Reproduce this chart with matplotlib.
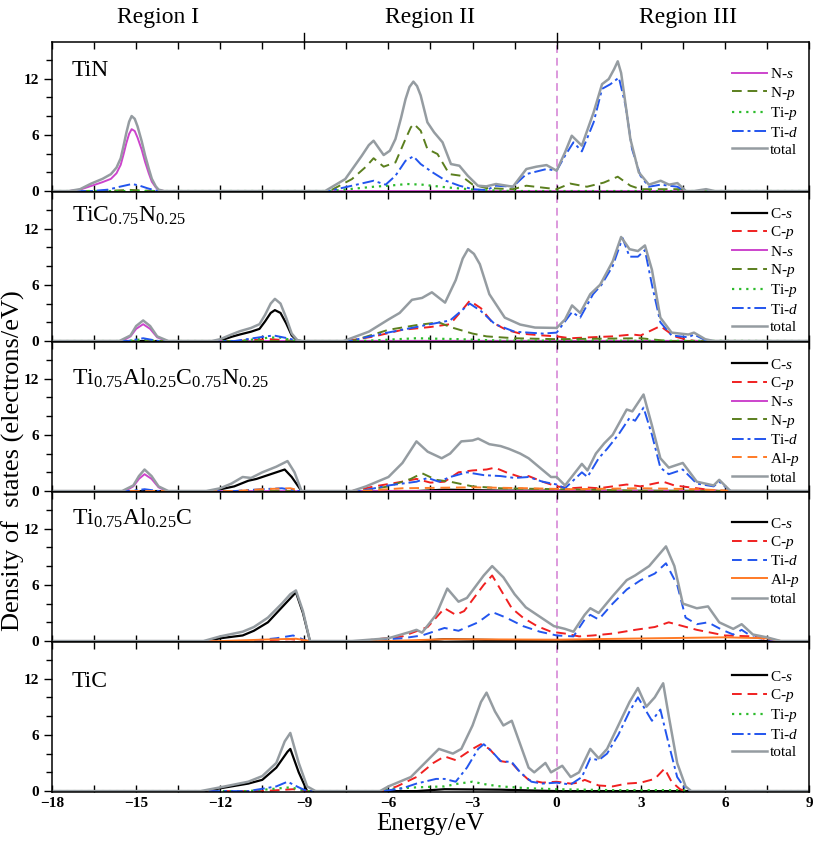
import numpy as np
import matplotlib
matplotlib.use("Agg")
import matplotlib.pyplot as plt
from matplotlib.ticker import MultipleLocator, FixedLocator
import matplotlib.transforms as mtransforms

plt.rcParams['font.family'] = ['Liberation Serif', 'DejaVu Serif']
plt.rcParams['mathtext.fontset'] = 'custom'
plt.rcParams['mathtext.rm'] = 'Liberation Serif'
plt.rcParams['mathtext.it'] = 'Liberation Serif:italic'
plt.rcParams['mathtext.bf'] = 'Liberation Serif:bold'

# ---- data: (energy eV, DOS) ----
# TiN
tin_ns = [(-18, 0), (-17.4, 0), (-17.0, 0.15), (-16.6, 0.55), (-16.2, 0.95), (-15.9, 1.3), (-15.7, 1.9),
          (-15.55, 2.8), (-15.45, 3.9), (-15.35, 5.1), (-15.25, 6.1), (-15.16, 6.6), (-15.05, 6.4),
          (-14.95, 5.7), (-14.8, 4.4), (-14.68, 3.1), (-14.55, 1.9), (-14.44, 1.0), (-14.3, 0.4),
          (-14.2, 0.1), (-14.0, 0), (9, 0)]
tin_np = [(-18, 0), (-16.2, 0), (-15.2, 0.12), (-14.3, 0), (-8.1, 0), (-7.3, 1.28), (-6.8, 2.6),
          (-6.53, 3.5), (-6.17, 2.6), (-5.75, 3.05), (-5.39, 5.55), (-5.2, 6.8), (-5.09, 7.15),
          (-4.85, 6.44), (-4.61, 4.48), (-4.25, 3.95), (-3.83, 1.81), (-3.41, 1.63), (-2.99, 0.68),
          (-2.51, 0.32), (-1.56, 0.2), (-1.08, 0.57), (-0.36, 0.32), (0, 0.2), (0.48, 0.8), (1.08, 0.46),
          (1.68, 0.9), (2.18, 1.53), (2.63, 0.57), (2.99, 0.2), (4.43, 0.2), (4.67, 0), (9, 0)]
tin_tip = [(-18, 0), (-8.1, 0), (-6.53, 0.46), (-5.99, 0.57), (-5.33, 0.75), (-4.79, 0.68), (-3.95, 0.4),
           (-2.75, 0.1), (-1.56, 0), (9, 0)]
tin_tid = [(-18, 0), (-16.6, 0), (-16.0, 0.15), (-15.6, 0.45), (-15.15, 0.75), (-14.9, 0.6), (-14.6, 0.3),
           (-14.3, 0.05), (-14.1, 0), (-8.14, 0), (-7.3, 0.57), (-6.53, 1.1), (-6.1, 0.68), (-5.75, 1.63),
           (-5.39, 3.23), (-5.11, 3.7), (-4.85, 2.88), (-4.43, 2.0), (-3.95, 1.1), (-3.47, 0.57),
           (-2.99, 0.2), (-2.51, 0.1), (-2.16, 0.57), (-1.56, 0.46), (-1.08, 1.81), (-0.36, 2.35),
           (0, 2.17), (0.3, 3.77), (0.6, 5.2), (0.9, 4.23), (1.32, 7.33), (1.62, 10.9), (1.92, 11.4),
           (2.22, 12.1), (2.46, 9.1), (2.69, 4.48), (2.99, 1.63), (3.29, 0.46), (3.71, 0.68),
           (4.01, 0.57), (4.31, 0.46), (4.55, 0), (9, 0)]
tin_total = [(-18, 0), (-17.4, 0), (-17.0, 0.2), (-16.6, 0.8), (-16.2, 1.3), (-15.9, 1.8), (-15.7, 2.5),
             (-15.55, 3.5), (-15.45, 4.8), (-15.35, 6.2), (-15.25, 7.4), (-15.16, 8.0), (-15.05, 7.7),
             (-14.95, 6.9), (-14.8, 5.3), (-14.68, 3.8), (-14.55, 2.4), (-14.44, 1.3), (-14.3, 0.5),
             (-14.2, 0.15), (-14.0, 0), (-8.26, 0), (-7.54, 1.28), (-6.95, 3.77), (-6.7, 4.9),
             (-6.53, 5.37), (-6.35, 4.6), (-6.17, 3.84), (-5.95, 4.3), (-5.75, 5.55), (-5.55, 7.8),
             (-5.39, 9.8), (-5.25, 11.1), (-5.11, 11.67), (-4.98, 11.2), (-4.85, 10.2), (-4.61, 7.33),
             (-4.37, 6.26), (-4.07, 5.2), (-3.77, 2.88), (-3.47, 2.7), (-3.17, 1.63), (-2.81, 0.57),
             (-2.51, 0.5), (-2.16, 0.75), (-1.56, 0.46), (-1.08, 2.35), (-0.72, 2.6), (-0.36, 2.77),
             (0, 2.17), (0.3, 4.13), (0.54, 5.9), (0.9, 4.84), (1.32, 8.4), (1.62, 11.4), (1.86, 11.95),
             (2.05, 13.0), (2.18, 13.84), (2.3, 12.6), (2.4, 10.5), (2.63, 5.55), (2.93, 2.0),
             (3.29, 0.68), (3.71, 1.1), (4.01, 0.68), (4.31, 0.85), (4.61, 0), (4.9, 0), (5.33, 0.2),
             (5.63, 0), (9, 0)]

# TiC0.75N0.25
tcn_cs = [(-18, 0), (-12.2, 0), (-11.9, 0.15), (-11.6, 0.45), (-11.3, 0.7), (-10.9, 1.0), (-10.6, 1.3),
          (-10.4, 2.1), (-10.2, 3.0), (-10.05, 3.3), (-9.85, 3.0), (-9.65, 1.9), (-9.45, 0.6),
          (-9.25, 0.05), (-9.1, 0), (9, 0)]
tcn_cp = [(-18, 0), (-11.5, 0), (-10.2, 0.2), (-9.3, 0), (-7.5, 0), (-6.5, 0.5), (-5.5, 1.2), (-4.5, 1.5),
          (-3.8, 1.8), (-3.4, 3.2), (-3.1, 4.3), (-2.7, 3.5), (-2.3, 2.0), (-1.8, 1.2), (-1.3, 0.8),
          (-0.5, 0.6), (0, 0.5), (0.5, 0.3), (1.2, 0.4), (2.0, 0.5), (2.7, 0.7), (3.0, 0.6), (3.7, 1.6),
          (4.2, 0.5), (4.7, 0.1), (5.0, 0), (9, 0)]
tcn_ns = [(-18, 0), (-15.5, 0), (-15.2, 0.5), (-15.0, 1.3), (-14.75, 1.8), (-14.5, 1.3), (-14.25, 0.4),
          (-13.9, 0), (9, 0)]
tcn_np = [(-18, 0), (-7.3, 0), (-6.0, 1.2), (-5.0, 1.7), (-4.2, 2.0), (-3.8, 1.5), (-3.0, 0.8),
          (-2.5, 0.5), (-1.5, 0.3), (0, 0.2), (3.0, 0.3), (4.0, 0), (9, 0)]
tcn_tip = [(-18, 0), (-15.3, 0), (-14.75, 0.2), (-14.2, 0), (-11.3, 0), (-10.3, 0.35), (-9.9, 0.4),
           (-9.3, 0), (-7.0, 0), (-5.0, 0.3), (-3.5, 0.2), (-2.0, 0.05), (9, 0)]
tcn_tid = [(-18, 0), (-15.3, 0), (-14.75, 0.3), (-14.2, 0), (-11.5, 0), (-10.6, 0.4), (-10.1, 0.6),
           (-9.6, 0.3), (-9.2, 0), (-7.4, 0), (-6.2, 0.8), (-5.0, 1.5), (-4.5, 1.8), (-3.8, 2.2),
           (-3.1, 4.0), (-2.7, 3.2), (-2.2, 1.8), (-1.5, 1.0), (-0.5, 0.8), (0, 0.9), (0.55, 3.1),
           (0.84, 2.5), (1.3, 5.0), (1.6, 6.0), (2.0, 8.0), (2.35, 11.0), (2.6, 9.0), (2.9, 9.0),
           (3.15, 9.7), (3.4, 6.0), (3.7, 2.0), (4.1, 0.6), (4.7, 0.4), (4.9, 0.7), (5.3, 0.1), (5.6, 0), (9, 0)]
tcn_total = [(-18, 0), (-15.6, 0), (-15.2, 0.6), (-15.0, 1.6), (-14.75, 2.2), (-14.5, 1.6), (-14.25, 0.5),
             (-13.85, 0), (-12.3, 0), (-12.0, 0.2), (-11.6, 0.7), (-11.3, 1.05), (-10.9, 1.4), (-10.6, 1.8),
             (-10.4, 2.8), (-10.2, 4.0), (-10.05, 4.5), (-9.85, 4.0), (-9.65, 2.5), (-9.45, 0.8),
             (-9.25, 0.1), (-9.1, 0), (-7.6, 0), (-6.7, 1.0), (-6.0, 2.3), (-5.6, 3.0), (-5.16, 4.4),
             (-4.8, 4.6), (-4.45, 5.2), (-3.98, 4.1), (-3.6, 6.5), (-3.35, 8.8), (-3.16, 9.8), (-2.95, 9.3),
             (-2.74, 8.2), (-2.4, 5.0), (-1.85, 2.5), (-1.3, 1.76), (-0.77, 1.44), (0, 1.4), (0.3, 2.3),
             (0.55, 3.8), (0.84, 3.0), (1.2, 5.0), (1.55, 6.0), (2.0, 8.5), (2.3, 11.1), (2.6, 9.8),
             (2.9, 9.6), (3.15, 10.2), (3.4, 7.6), (3.7, 2.5), (4.1, 0.9), (4.7, 0.7), (4.9, 0.9),
             (5.3, 0.2), (5.6, 0), (9, 0)]

# Ti0.75Al0.25C0.75N0.25
tacn_cs = [(-18, 0), (-12.3, 0), (-11.5, 0.5), (-11.0, 1.1), (-10.7, 1.3), (-10.2, 1.8), (-9.7, 2.3),
           (-9.45, 1.5), (-9.1, 0), (-5.0, 0), (-4.0, 0.15), (-2.0, 0.05), (9, 0)]
tacn_cp = [(-18, 0), (-7.3, 0), (-6.5, 0.5), (-5.5, 1.0), (-5.0, 1.3), (-4.5, 0.9), (-4.0, 1.0),
           (-3.5, 2.0), (-3.0, 2.2), (-2.5, 2.3), (-2.2, 2.5), (-1.8, 2.0), (-1.3, 1.5), (-1.0, 1.6),
           (-0.5, 1.0), (0, 0.5), (0.5, 0.3), (1.0, 0.4), (1.5, 0.3), (2.5, 0.7), (3.0, 0.5), (3.8, 1.0),
           (4.2, 0.6), (5.0, 0.3), (5.8, 0), (9, 0)]
tacn_ns = [(-18, 0), (-15.4, 0), (-15.1, 0.5), (-14.9, 1.3), (-14.7, 1.8), (-14.45, 1.3), (-14.2, 0.4),
           (-13.9, 0), (9, 0)]
tacn_np = [(-18, 0), (-7.0, 0), (-6.0, 0.5), (-5.2, 1.3), (-4.8, 1.9), (-4.3, 1.2), (-3.8, 1.0),
           (-3.0, 0.5), (-2.0, 0.3), (0, 0.2), (2.0, 0.1), (3.0, 0), (9, 0)]
tacn_tid = [(-18, 0), (-15.2, 0), (-14.7, 0.2), (-14.2, 0), (-11.5, 0), (-10.5, 0.2), (-9.8, 0.3),
            (-9.2, 0), (-7.0, 0), (-6.0, 0.6), (-5.0, 1.0), (-4.6, 1.4), (-4.2, 1.0), (-3.8, 1.5),
            (-3.2, 2.0), (-2.6, 1.7), (-2.0, 1.6), (-1.5, 1.4), (-1.0, 1.5), (-0.5, 1.0), (0, 0.7),
            (0.3, 0.3), (0.9, 2.0), (1.1, 1.5), (1.5, 3.5), (1.8, 4.5), (2.2, 6.0), (2.6, 7.8), (2.8, 7.5),
            (3.1, 8.9), (3.4, 6.0), (3.7, 2.5), (4.0, 1.8), (4.5, 2.3), (5.0, 0.8), (5.6, 0.5), (5.8, 1.0),
            (6.2, 0), (9, 0)]
tacn_alp = [(-18, 0), (-11.5, 0), (-10.5, 0.2), (-9.5, 0.3), (-9.1, 0), (-7.0, 0), (-5.5, 0.3),
            (-3.0, 0.4), (-1.0, 0.3), (0.5, 0.2), (3.0, 0.3), (5.0, 0.2), (6.5, 0), (9, 0)]
tacn_total = [(-18, 0), (-15.5, 0), (-15.1, 0.6), (-14.9, 1.6), (-14.7, 2.3), (-14.45, 1.6), (-14.2, 0.5),
              (-13.85, 0), (-12.5, 0), (-12.0, 0.3), (-11.6, 0.8), (-11.2, 1.5), (-10.9, 1.4), (-10.5, 2.0),
              (-10.0, 2.6), (-9.6, 3.2), (-9.35, 2.0), (-9.1, 0), (-7.3, 0), (-6.8, 0.5), (-6.0, 1.5),
              (-5.5, 3.0), (-5.0, 5.3), (-4.6, 4.2), (-4.1, 3.5), (-3.8, 4.0), (-3.4, 5.3), (-3.0, 5.4),
              (-2.8, 5.6), (-2.4, 5.0), (-2.0, 4.8), (-1.7, 4.5), (-1.3, 4.0), (-1.0, 3.5), (-0.6, 2.5),
              (-0.2, 1.5), (0, 1.5), (0.3, 0.6), (0.9, 2.9), (1.1, 2.2), (1.4, 4.0), (1.7, 5.1), (2.0, 6.0),
              (2.5, 8.7), (2.7, 8.5), (3.1, 10.3), (3.4, 7.0), (3.7, 3.5), (4.0, 2.5), (4.5, 3.0),
              (5.0, 1.0), (5.6, 0.6), (5.8, 1.2), (6.2, 0), (9, 0)]

# Ti0.75Al0.25C
tac_cs = [(-18, 0), (-12.5, 0), (-12.0, 0.3), (-11.2, 0.6), (-10.8, 1.1), (-10.3, 2.0), (-9.8, 3.6),
          (-9.3, 5.2), (-9.05, 3.0), (-8.8, 0), (-5.0, 0), (-4.0, 0.2), (-2.0, 0.1), (0, 0), (9, 0)]
tac_cp = [(-18, 0), (-11.0, 0), (-9.5, 0.2), (-8.8, 0), (-7.0, 0), (-5.5, 0.5), (-4.6, 1.5), (-4.0, 3.5),
          (-3.6, 2.8), (-3.3, 3.2), (-2.6, 6.0), (-2.3, 7.0), (-2.0, 5.5), (-1.6, 3.5), (-1.2, 2.5),
          (-0.7, 1.6), (-0.2, 1.0), (0.3, 0.8), (0.8, 0.5), (1.3, 0.6), (2.0, 0.8), (2.8, 1.2),
          (3.5, 1.5), (4.0, 2.0), (4.5, 1.6), (5.0, 1.2), (6.0, 0.6), (7.0, 0.5), (7.8, 0), (9, 0)]
tac_tid = [(-18, 0), (-11.0, 0), (-10.0, 0.3), (-9.4, 0.6), (-8.9, 0), (-7.0, 0), (-5.5, 0.3),
           (-4.8, 0.6), (-4.0, 1.4), (-3.5, 1.1), (-2.8, 2.0), (-2.3, 3.1), (-1.8, 2.5), (-1.2, 1.6),
           (-0.6, 1.0), (0, 0.6), (0.6, 0.5), (1.0, 2.3), (1.2, 2.8), (1.5, 2.3), (2.0, 4.0), (2.5, 5.5),
           (3.0, 6.5), (3.5, 7.2), (3.9, 8.3), (4.3, 6.0), (4.6, 2.5), (5.0, 1.8), (5.4, 2.0), (5.9, 1.2),
           (6.3, 0.7), (6.6, 1.2), (7.0, 0.4), (7.5, 0.2), (8.0, 0), (9, 0)]
tac_alp = [(-18, 0), (-12.0, 0), (-10.5, 0.15), (-9.3, 0.25), (-8.8, 0), (-6.0, 0), (-4.0, 0.2),
           (0, 0.15), (3.5, 0.3), (6.0, 0.4), (7.5, 0.3), (8.0, 0), (9, 0)]
tac_total = [(-18, 0), (-12.6, 0), (-12.0, 0.5), (-11.2, 1.0), (-10.8, 1.5), (-10.3, 2.5), (-9.8, 4.0),
             (-9.5, 5.0), (-9.3, 5.4), (-9.05, 3.2), (-8.8, 0), (-7.3, 0), (-6.0, 0.3), (-5.2, 1.0),
             (-5.0, 1.2), (-4.8, 0.9), (-4.3, 2.8), (-3.9, 5.6), (-3.5, 4.2), (-3.2, 4.6), (-2.6, 7.0),
             (-2.3, 8.0), (-1.9, 6.8), (-1.5, 5.0), (-1.1, 3.6), (-0.6, 2.6), (-0.1, 1.6), (0.3, 1.3),
             (0.6, 1.0), (1.0, 2.8), (1.2, 3.5), (1.5, 3.0), (2.0, 4.8), (2.5, 6.5), (2.8, 7.0),
             (3.3, 8.0), (3.9, 10.1), (4.2, 8.0), (4.5, 4.0), (5.0, 3.5), (5.4, 3.7), (5.8, 2.0),
             (6.3, 1.3), (6.6, 1.8), (7.0, 0.7), (7.5, 0.4), (8.0, 0), (9, 0)]

# TiC
tic_cs = [(-18, 0), (-12.5, 0), (-12.0, 0.3), (-11.0, 0.8), (-10.5, 1.2), (-10.0, 2.5), (-9.6, 4.2),
          (-9.5, 4.5), (-9.2, 2.0), (-8.9, 0), (-5.0, 0), (-4.0, 0.2), (-2.0, 0.15), (0, 0), (9, 0)]
tic_cp = [(-18, 0), (-10.5, 0), (-9.4, 0.2), (-8.9, 0), (-6.2, 0), (-5.7, 0.5), (-5.0, 1.5), (-4.4, 3.0),
          (-4.0, 3.7), (-3.6, 3.3), (-3.0, 4.5), (-2.7, 5.0), (-2.4, 4.5), (-2.0, 3.2), (-1.6, 3.0),
          (-1.3, 2.0), (-1.0, 1.2), (-0.5, 0.9), (0, 1.0), (0.5, 0.8), (0.8, 0.9), (1.0, 1.2),
          (1.5, 0.6), (2.0, 0.5), (2.5, 0.8), (3.0, 0.9), (3.5, 1.3), (3.85, 2.4), (4.1, 1.0),
          (4.4, 0.2), (4.6, 0), (9, 0)]
tic_tip = [(-18, 0), (-11.0, 0), (-9.5, 0.4), (-8.9, 0), (-6.3, 0), (-6.0, 0.2), (-5.0, 0.4),
           (-4.0, 0.5), (-3.5, 0.8), (-3.0, 1.0), (-2.5, 0.7), (-2.0, 0.5), (-1.0, 0.3), (0, 0.2),
           (2.0, 0.1), (4.5, 0.1), (4.7, 0), (9, 0)]
tic_tid = [(-18, 0), (-11.0, 0), (-10.0, 0.5), (-9.6, 1.0), (-9.2, 0.4), (-8.9, 0), (-6.2, 0),
           (-5.5, 0.3), (-5.0, 0.8), (-4.3, 1.3), (-4.0, 1.3), (-3.6, 1.0), (-3.2, 2.5), (-2.8, 4.5),
           (-2.6, 5.0), (-2.3, 4.2), (-2.0, 3.2), (-1.6, 3.1), (-1.3, 2.0), (-0.9, 1.0), (-0.5, 0.8),
           (0, 0.9), (0.5, 0.7), (0.9, 1.5), (1.2, 3.5), (1.5, 3.3), (1.8, 4.0), (2.2, 6.0), (2.6, 8.5),
           (2.9, 10.0), (3.2, 8.5), (3.4, 7.5), (3.7, 8.7), (4.0, 5.0), (4.3, 1.5), (4.6, 0.2), (4.8, 0), (9, 0)]
tic_total = [(-18, 0), (-12.7, 0), (-12.0, 0.4), (-11.0, 1.0), (-10.5, 1.6), (-10.0, 3.0), (-9.7, 5.3),
             (-9.5, 6.2), (-9.2, 3.0), (-8.9, 0.5), (-8.6, 0), (-6.3, 0), (-6.0, 0.5), (-5.2, 1.5),
             (-4.7, 3.0), (-4.2, 4.5), (-3.7, 4.0), (-3.4, 4.5), (-3.0, 7.0), (-2.7, 9.5), (-2.5, 10.5),
             (-2.2, 8.5), (-1.9, 7.0), (-1.6, 7.5), (-1.3, 5.0), (-1.0, 2.5), (-0.8, 2.0), (-0.4, 3.0),
             (-0.2, 2.0), (0.2, 2.7), (0.5, 1.5), (0.8, 2.0), (1.2, 4.5), (1.5, 3.5), (1.8, 4.5),
             (2.2, 7.0), (2.6, 9.5), (2.9, 11.0), (3.2, 9.0), (3.5, 10.0), (3.8, 11.5), (4.0, 8.0),
             (4.3, 3.0), (4.6, 0.5), (4.8, 0), (9, 0)]

panel_names = ['TiN', r'TiC$_{0.75}$N$_{0.25}$', r'Ti$_{0.75}$Al$_{0.25}$C$_{0.75}$N$_{0.25}$',
               r'Ti$_{0.75}$Al$_{0.25}$C', 'TiC']
region_names = ['Region I', 'Region II', 'Region III']
region_centers = [-14.2, -4.5, 4.7]
region_edges = [-9, 0]

# line styles per orbital
styles = {
    'C-s': dict(color='black', ls='-', lw=1.6),
    'C-p': dict(color='#f02020', ls=(0, (5, 3)), lw=1.4),
    'N-s': dict(color='#cc44cc', ls='-', lw=1.4),
    'N-p': dict(color='#5b7f1e', ls=(0, (5, 3)), lw=1.4),
    'Ti-p': dict(color='#2cbb2c', ls=(0, (1, 2.2)), lw=1.6),
    'Ti-d': dict(color='#2255ee', ls=(0, (6, 2, 1.5, 2)), lw=1.4),
    'Ti-d2': dict(color='#2255ee', ls=(0, (5, 3)), lw=1.4),
    'Al-p': dict(color='#ff7a26', ls=(0, (5, 3)), lw=1.4),
    'Al-p2': dict(color='#ff7a26', ls='-', lw=1.4),
    'total': dict(color='#959ca1', ls='-', lw=1.8),
}
labels = {'C-s': r'C-$s$', 'C-p': r'C-$p$', 'N-s': r'N-$s$', 'N-p': r'N-$p$', 'Ti-p': r'Ti-$p$',
          'Ti-d': r'Ti-$d$', 'Ti-d2': r'Ti-$d$', 'Al-p': r'Al-$p$', 'Al-p2': r'Al-$p$', 'total': 'total'}

panels = [
    [('N-s', tin_ns), ('N-p', tin_np), ('Ti-p', tin_tip), ('Ti-d', tin_tid), ('total', tin_total)],
    [('C-s', tcn_cs), ('C-p', tcn_cp), ('N-s', tcn_ns), ('N-p', tcn_np), ('Ti-p', tcn_tip),
     ('Ti-d', tcn_tid), ('total', tcn_total)],
    [('C-s', tacn_cs), ('C-p', tacn_cp), ('N-s', tacn_ns), ('N-p', tacn_np), ('Ti-d', tacn_tid),
     ('Al-p', tacn_alp), ('total', tacn_total)],
    [('C-s', tac_cs), ('C-p', tac_cp), ('Ti-d2', tac_tid), ('Al-p2', tac_alp), ('total', tac_total)],
    [('C-s', tic_cs), ('C-p', tic_cp), ('Ti-p', tic_tip), ('Ti-d', tic_tid), ('total', tic_total)],
]
name_y = [0.773, 0.80, 0.713, 0.78, 0.70]
legend_y = [0.83, 0.90, 0.895, 0.835, 0.815]

fig = plt.figure(figsize=(8.13, 8.48), dpi=100)
fig.subplots_adjust(left=0.064, right=0.995, top=0.9505, bottom=0.066, hspace=0)
axes = fig.subplots(5, 1, sharex=True)

for i, ax in enumerate(axes):
    for key, pts in panels[i]:
        arr = np.array(pts, dtype=float)
        ax.plot(arr[:, 0], arr[:, 1], label=labels[key], **styles[key])
    ax.axvline(0, color='#dd99dd', ls=(0, (4, 2.5)), lw=1.4, zorder=0)
    ax.set_xlim(-18, 9)
    ax.set_ylim(-0.1, 15.9)
    ax.yaxis.set_major_locator(FixedLocator([0, 6, 12]))
    ax.yaxis.set_minor_locator(MultipleLocator(2))
    ax.xaxis.set_major_locator(MultipleLocator(3))
    ax.xaxis.set_minor_locator(MultipleLocator(1.5))
    ax.tick_params(axis='x', which='both', direction='in', top=True, bottom=True,
                   length=5, width=1, labelsize=11)
    ax.tick_params(axis='y', which='major', direction='out', length=6, width=1, labelsize=11)
    ax.tick_params(axis='y', which='minor', direction='out', length=4, width=1)
    for lab in ax.get_yticklabels() + ax.get_xticklabels():
        lab.set_fontweight('bold')
    for sp in ax.spines.values():
        sp.set_linewidth(1.1)
    ax.text(-17.3, name_y[i], panel_names[i], fontsize=17,
            transform=mtransforms.blended_transform_factory(ax.transData, ax.transAxes),
            va='baseline', ha='left')
    ax.legend(loc='upper left', bbox_to_anchor=(0.898, legend_y[i]), frameon=False, fontsize=11,
              handlelength=2.3, handletextpad=0.2, labelspacing=0.22, borderpad=0, borderaxespad=0)

top = axes[0]
trans = mtransforms.blended_transform_factory(top.transData, top.transAxes)
for xe in region_edges:
    top.plot([xe, xe], [1.0, 1.06], transform=trans, color='black', lw=1, clip_on=False)
for xc, name in zip(region_centers, region_names):
    top.text(xc, 1.16, name, transform=trans, ha='center', va='center', fontsize=17)

axes[-1].set_xlabel('Energy/eV', fontsize=18, labelpad=2)
fig.text(0.016, 0.457, 'Density of  states (electrons/eV)', rotation=90, ha='center', va='center',
         fontsize=19)

fig.savefig('out.png', dpi=100)
